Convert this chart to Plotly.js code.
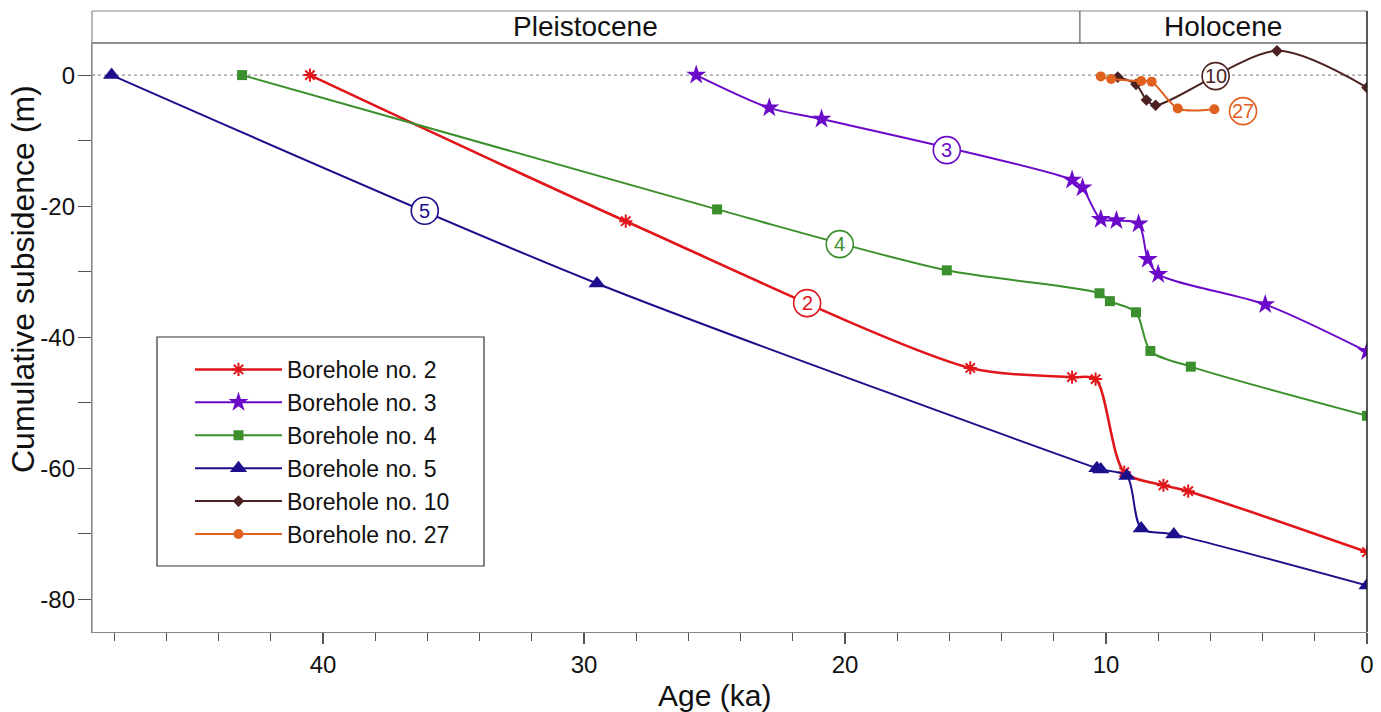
<!DOCTYPE html>
<html>
<head>
<meta charset="utf-8">
<script src="https://cdn.plot.ly/plotly-3.0.1.min.js"></script>
<style>
html,body{margin:0;padding:0;background:#fff;}
#chart{width:1381px;height:712px;}
</style>
</head>
<body>
<div id="chart"></div>
<script>
// ---- data (age in ka, cumulative subsidence in m) ----
const seriesNames = ['Borehole no. 2','Borehole no. 3','Borehole no. 4','Borehole no. 5','Borehole no. 10','Borehole no. 27'];
const age2 = [40.5, 28.4, 15.2, 11.3, 10.4, 9.3, 7.8, 6.85, 0];
const sub2 = [0, -22.3, -44.7, -46.1, -46.4, -60.6, -62.6, -63.5, -72.8];
const age3 = [25.7, 22.9, 20.9, 11.3, 10.9, 10.2, 9.6, 8.75, 8.4, 8.0, 3.9, 0];
const sub3 = [0, -5.0, -6.7, -16.0, -17.2, -22.0, -22.2, -22.7, -28.1, -30.4, -35.0, -42.2];
const age4 = [43.1, 24.9, 16.1, 10.25, 9.85, 8.85, 8.3, 6.75, 0];
const sub4 = [0, -20.5, -29.8, -33.3, -34.5, -36.2, -42.1, -44.5, -52.0];
const age5 = [48.1, 29.5, 10.35, 10.2, 9.2, 8.65, 7.4, 0];
const sub5 = [0, -31.8, -60.0, -60.2, -61.2, -69.2, -70.1, -77.9];
const age10 = [9.55, 8.85, 8.45, 8.1, 3.45, 0];
const sub10 = [-0.3, -1.4, -3.8, -4.6, 3.7, -1.9];
const age27 = [10.2, 9.8, 8.65, 8.25, 7.25, 5.85];
const sub27 = [-0.2, -0.6, -0.9, -1.0, -5.1, -5.2];

// circled borehole labels
const labelText = ['2', '3', '4', '5', '10', '27'];
const labelAge = [21.45, 16.1, 20.2, 36.1, 5.8, 4.75];
const labelSub = [-34.8, -11.45, -25.8, -20.7, -0.15, -5.5];

// axis ticks
const xTickVals = [40, 30, 20, 10, 0];
const xTickText = ['40', '30', '20', '10', '0'];
const yTickVals = [0, -20, -40, -60, -80];
const yTickText = ['0', '-20', '-40', '-60', '-80'];

// epochs header
const epochNames = ['Pleistocene', 'Holocene'];
const epochBoundary = 11;
const xMax = 48.85;

const colors = ['#e0161b', '#6b0ac9', '#3b8f2c', '#1c0f8c', '#4b2121', '#e0601e'];
const symbols = ['asterisk-open', 'star', 'square', 'triangle-up', 'diamond', 'circle'];
const msizes = [11, 15, 10, 15, 9, 10];
const lwidths = [2.6, 2, 2, 2, 2, 2];
const ages = [age2, age3, age4, age5, age10, age27];
const subs = [sub2, sub3, sub4, sub5, sub10, sub27];

const traces = ages.map((a, i) => ({
  type: 'scatter', mode: 'lines+markers', name: seriesNames[i],
  x: a, y: subs[i],
  line: {color: colors[i], width: lwidths[i], shape: 'spline', smoothing: 0.8},
  marker: {symbol: symbols[i], size: msizes[i], color: colors[i],
           line: {color: colors[i], width: symbols[i] === 'asterisk-open' ? 2 : 0}}
}));

const FONT = 'Liberation Sans, Arial, sans-serif';
const PW = 1275, PH = 589, PL = 92, PB = 632;
const px2x = p => (p - PL) / PW;
const py2y = p => (PB - p) / PH;
const hdrTop = 1 + 32 / PH;

const shapes = [
  // zero dotted line
  {type: 'line', xref: 'paper', yref: 'y', x0: 0, x1: 1, y0: 0, y1: 0,
   line: {color: '#777', width: 1, dash: 'dot'}, layer: 'below'},
  // header band
  {type: 'line', xref: 'paper', yref: 'paper', x0: 0, x1: 1, y0: 1, y1: 1,
   line: {color: '#222', width: 1.2}},
  {type: 'line', xref: 'paper', yref: 'paper', x0: 0, x1: 1, y0: hdrTop, y1: hdrTop,
   line: {color: '#888', width: 1.2}},
  {type: 'line', xref: 'paper', yref: 'paper', x0: 0, x1: 0, y0: 0, y1: hdrTop,
   line: {color: '#888', width: 1.2}},
  {type: 'line', xref: 'paper', yref: 'paper', x0: 1, x1: 1, y0: 0, y1: hdrTop,
   line: {color: '#222', width: 1.5}},
  {type: 'line', xref: 'x', yref: 'paper', x0: epochBoundary, x1: epochBoundary, y0: 1, y1: hdrTop,
   line: {color: '#444', width: 1}},
  // legend frame
  {type: 'rect', xref: 'paper', yref: 'paper', x0: px2x(157), x1: px2x(484), y0: py2y(566), y1: py2y(337),
   fillcolor: '#fff', line: {color: '#333', width: 1.2}, layer: 'above'}
];

const annotations = [
  {xref: 'x', yref: 'paper', x: (xMax + epochBoundary) / 2, y: (1 + hdrTop) / 2, text: epochNames[0],
   showarrow: false, font: {family: FONT, size: 28, color: '#111'}, yanchor: 'middle'},
  {xref: 'x', yref: 'paper', x: epochBoundary / 2, y: (1 + hdrTop) / 2, text: epochNames[1],
   showarrow: false, font: {family: FONT, size: 28, color: '#111'}, yanchor: 'middle'},
  {xref: 'paper', yref: 'paper', x: px2x(714), y: py2y(695), text: 'Age (ka)',
   showarrow: false, font: {family: FONT, size: 30, color: '#111'}, xanchor: 'center', yanchor: 'middle'},
  {xref: 'paper', yref: 'paper', x: px2x(23), y: py2y(279), text: 'Cumulative subsidence (m)',
   textangle: -90, showarrow: false, font: {family: FONT, size: 32, color: '#111'},
   xanchor: 'center', yanchor: 'middle'}
];

labelText.forEach((t, i) => {
  shapes.push({type: 'circle', xref: 'x', yref: 'y', xsizemode: 'pixel', ysizemode: 'pixel',
    xanchor: labelAge[i], yanchor: labelSub[i], x0: -13.5, x1: 13.5, y0: -13.5, y1: 13.5,
    fillcolor: '#fff', line: {color: colors[i], width: 1.6}, layer: 'above'});
  annotations.push({xref: 'x', yref: 'y', x: labelAge[i], y: labelSub[i], text: t,
    showarrow: false, font: {family: FONT, size: 20, color: colors[i]}});
});

const layout = {
  width: 1381, height: 712,
  margin: {l: PL, r: 1381 - PL - PW, t: 43, b: 712 - PB},
  paper_bgcolor: '#fff', plot_bgcolor: '#fff',
  showlegend: true,
  legend: {x: px2x(190), y: py2y(348), xanchor: 'left', yanchor: 'top',
           bgcolor: 'rgba(0,0,0,0)', borderwidth: 0,
           font: {family: FONT, size: 23, color: '#111'}, itemwidth: 87,
           tracegroupgap: 0},
  xaxis: {range: [xMax, 0], showgrid: false, zeroline: false,
          showline: true, linecolor: '#888', linewidth: 1.2,
          ticks: 'outside', ticklen: 11, tickcolor: '#555', tickwidth: 1.2,
          tickmode: 'array', tickvals: xTickVals, ticktext: xTickText,
          minor: {tickmode: 'linear', tick0: 0, dtick: 2, ticks: 'outside', ticklen: 8, tickcolor: '#555', tickwidth: 1},
          tickfont: {family: FONT, size: 24, color: '#111'}},
  yaxis: {range: [-85, 4.9], showgrid: false, zeroline: false,
          showline: true, linecolor: '#888', linewidth: 1.2,
          ticks: 'outside', ticklen: 11, tickcolor: '#555', tickwidth: 1.2,
          tickmode: 'array', tickvals: yTickVals, ticktext: yTickText,
          minor: {tickmode: 'linear', tick0: 0, dtick: 10, ticks: 'outside', ticklen: 13, tickcolor: '#555', tickwidth: 1},
          tickfont: {family: FONT, size: 24, color: '#111'}},
  shapes: shapes,
  annotations: annotations
};

Plotly.newPlot('chart', traces, layout, {displayModeBar: false, staticPlot: true});
</script>
</body>
</html>
